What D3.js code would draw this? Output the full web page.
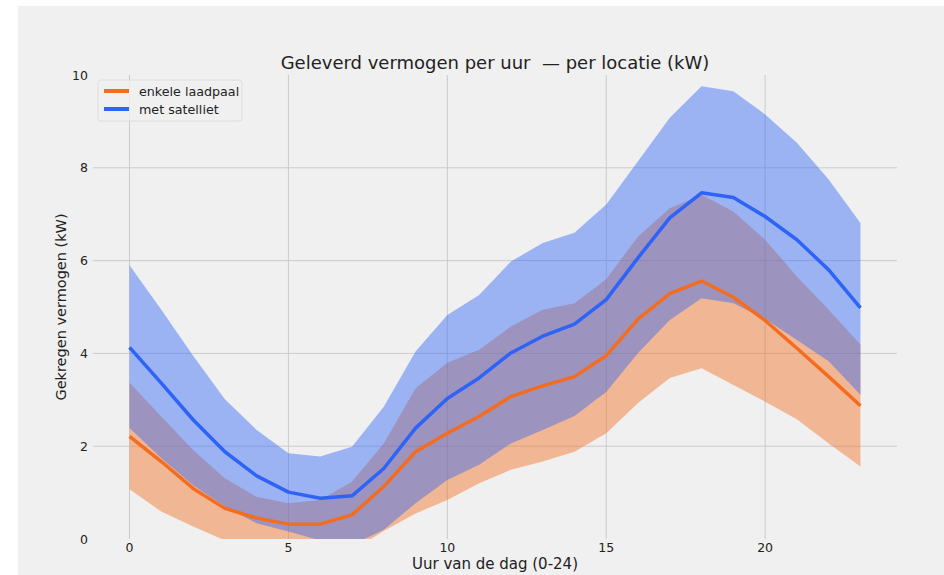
<!DOCTYPE html>
<html>
<head>
<meta charset="utf-8">
<script src="https://cdn.jsdelivr.net/npm/d3@7/dist/d3.min.js"></script>
<style>
  body { margin: 0; background: #fff; }
  svg { display: block; font-family: "DejaVu Sans", sans-serif; }
  .grid line { stroke: #cbcbcb; stroke-width: 1; }
  .tick-label { font-size: 12.5px; fill: #222; }
</style>
</head>
<body>
<svg width="944" height="575"></svg>
<script>
var svg = d3.select("svg"),
    width = +svg.attr("width"),
    height = +svg.attr("height");

// hours of the day
var hours = d3.range(0, 24);

// enkele laadpaal (orange)
var singleMean = [2.21, 1.67, 1.09, 0.66, 0.45, 0.32, 0.32, 0.52, 1.13, 1.88, 2.28, 2.64,
                  3.07, 3.30, 3.50, 3.95, 4.74, 5.29, 5.56, 5.21, 4.71, 4.11, 3.50, 2.87];
var singleLow  = [1.07, 0.59, 0.27, -0.03, -0.05, -0.13, -0.20, -0.25, 0.17, 0.55, 0.84, 1.20,
                  1.49, 1.67, 1.88, 2.28, 2.93, 3.47, 3.68, 3.32, 2.96, 2.58, 2.06, 1.56];
var singleHigh = [3.37, 2.64, 1.92, 1.31, 0.91, 0.77, 0.84, 1.24, 2.06, 3.25, 3.80, 4.08,
                  4.58, 4.94, 5.08, 5.60, 6.52, 7.13, 7.42, 7.06, 6.45, 5.66, 4.94, 4.19];

// met satelliet (blue)
var satMean = [4.13, 3.36, 2.57, 1.88, 1.36, 1.01, 0.88, 0.93, 1.52, 2.39, 3.03, 3.47,
               4.01, 4.37, 4.63, 5.16, 6.06, 6.92, 7.46, 7.36, 6.95, 6.45, 5.80, 4.98];
var satLow  = [2.39, 1.74, 1.16, 0.70, 0.34, 0.16, -0.03, -0.13, 0.20, 0.77, 1.27, 1.60,
               2.06, 2.35, 2.65, 3.17, 4.01, 4.72, 5.19, 5.08, 4.74, 4.29, 3.83, 3.11];
var satHigh = [5.90, 4.94, 3.95, 3.01, 2.35, 1.85, 1.78, 1.99, 2.85, 4.04, 4.83, 5.26,
               5.98, 6.38, 6.60, 7.21, 8.14, 9.08, 9.76, 9.65, 9.15, 8.54, 7.75, 6.81];

var xTicks = [0, 5, 10, 15, 20];
var yTicks = [0, 2, 4, 6, 8, 10];

var orange = "#f46d1f",
    blue = "#2e63f7";

var margin = { left: 93, right: 47, top: 75, bottom: 36 };

// figure background (with the thin white edge of the screenshot)
svg.append("rect")
    .attr("x", 18).attr("y", 6)
    .attr("width", width - 18).attr("height", height - 6)
    .attr("fill", "#f0f0f0");

var x = d3.scaleLinear()
    .domain([-1.15, 24.15])
    .range([margin.left, width - margin.right]);

var y = d3.scaleLinear()
    .domain([0, 10])
    .range([height - margin.bottom, margin.top]);

svg.append("clipPath").attr("id", "plotclip")
  .append("rect")
    .attr("x", x.range()[0]).attr("y", y.range()[1])
    .attr("width", x.range()[1] - x.range()[0])
    .attr("height", y.range()[0] - y.range()[1]);

// grid
var grid = svg.append("g").attr("class", "grid");
grid.selectAll(".vg")
    .data(xTicks)
    .enter().append("line")
      .attr("x1", d => x(d)).attr("x2", d => x(d))
      .attr("y1", y(0)).attr("y2", y(10));
grid.selectAll(".hg")
    .data(yTicks.filter(d => d > 0 && d < 10))
    .enter().append("line")
      .attr("x1", x.range()[0]).attr("x2", x.range()[1])
      .attr("y1", d => y(d)).attr("y2", d => y(d));

var plot = svg.append("g").attr("clip-path", "url(#plotclip)");

function band(low, high) {
  return d3.area()
      .x((d, i) => x(hours[i]))
      .y0((d, i) => y(low[i]))
      .y1((d, i) => y(high[i]))(hours);
}

function line(vals) {
  return d3.line()
      .x((d, i) => x(hours[i]))
      .y((d, i) => y(vals[i]))(hours);
}

plot.append("path")
    .attr("d", band(singleLow, singleHigh))
    .attr("fill", orange)
    .attr("fill-opacity", 0.43);

plot.append("path")
    .attr("d", band(satLow, satHigh))
    .attr("fill", blue)
    .attr("fill-opacity", 0.43);

plot.append("path")
    .attr("d", line(singleMean))
    .attr("fill", "none")
    .attr("stroke", orange)
    .attr("stroke-width", 3.5)
    .attr("stroke-linejoin", "round");

plot.append("path")
    .attr("d", line(satMean))
    .attr("fill", "none")
    .attr("stroke", blue)
    .attr("stroke-width", 3.5)
    .attr("stroke-linejoin", "round");

// tick labels
svg.selectAll(".xt")
    .data(xTicks)
    .enter().append("text")
      .attr("class", "tick-label")
      .attr("x", d => x(d))
      .attr("y", y(0) + 13)
      .attr("text-anchor", "middle")
      .text(d => d);

svg.selectAll(".yt")
    .data(yTicks)
    .enter().append("text")
      .attr("class", "tick-label")
      .attr("x", x.range()[0] - 5)
      .attr("y", d => y(d) + 4.5)
      .attr("text-anchor", "end")
      .text(d => d);

// axis titles
svg.append("text")
    .attr("x", (x.range()[0] + x.range()[1]) / 2)
    .attr("y", 569)
    .attr("text-anchor", "middle")
    .attr("font-size", "15px")
    .attr("fill", "#222")
    .text("Uur van de dag (0-24)");

svg.append("text")
    .attr("transform", "translate(66," + ((y.range()[0] + y.range()[1]) / 2) + ") rotate(-90)")
    .attr("text-anchor", "middle")
    .attr("font-size", "14.5px")
    .attr("fill", "#222")
    .text("Gekregen vermogen (kW)");

svg.append("text")
    .attr("x", (x.range()[0] + x.range()[1]) / 2)
    .attr("y", 69)
    .attr("text-anchor", "middle")
    .attr("font-size", "18px")
    .attr("fill", "#222")
    .style("white-space", "pre")
    .text("Geleverd vermogen per uur  \u2014 per locatie (kW)");

// legend
var legend = svg.append("g").attr("transform", "translate(98,80)");
legend.append("rect")
    .attr("width", 144).attr("height", 41).attr("rx", 3)
    .attr("fill", "#f0f0f0").attr("fill-opacity", 0.8)
    .attr("stroke", "#d8d8d8").attr("stroke-width", 0.8);

var items = [{ label: "enkele laadpaal", color: orange },
             { label: "met satelliet", color: blue }];

var li = legend.selectAll(".item")
    .data(items)
    .enter().append("g")
      .attr("transform", (d, i) => "translate(0," + (11 + i * 18) + ")");
li.append("line")
    .attr("x1", 6).attr("x2", 31)
    .attr("stroke", d => d.color).attr("stroke-width", 4);
li.append("text")
    .attr("x", 41).attr("y", 4.5)
    .attr("font-size", "12.7px")
    .attr("fill", "#222")
    .text(d => d.label);
</script>
</body>
</html>
